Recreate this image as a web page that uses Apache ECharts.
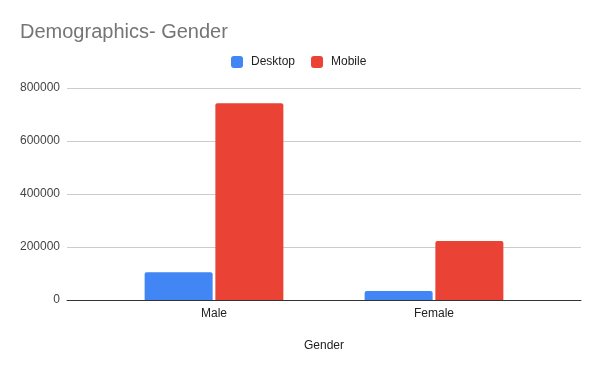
<!DOCTYPE html>
<html><head><meta charset="utf-8">
<script src="https://cdn.jsdelivr.net/npm/echarts@6/dist/echarts.min.js"></script>
<style>html,body{margin:0;padding:0;background:#fff}#c{width:600px;height:371px}</style>
</head><body><div id="c"></div>
<script>
const categories = ['Male', 'Female'];
const desktop = [104500, 34000];
const mobile = [742000, 222600];
const yTicks = [0, 200000, 400000, 600000, 800000];

const chart = echarts.init(document.getElementById('c'));
const font = 'Arial, "Liberation Sans", sans-serif';
chart.setOption({
  animation: false,
  title: { text: 'Demographics- Gender', left: 20, top: 22, padding: 0,
    textStyle: { fontFamily: font, fontSize: 20, fontWeight: 'normal', color: '#757575' } },
  legend: { top: 51, left: 226, itemWidth: 12, itemHeight: 12, itemGap: 16,
    icon: 'roundRect',
    textStyle: { fontFamily: font, fontSize: 12, color: '#222', padding: [0, 0, 0, 3] },
    data: ['Desktop', 'Mobile'] },
  grid: [
    { left: 67, right: 19, top: 88, bottom: 71 },
    { left: 104, right: 56, top: 88, bottom: 71 }
  ],
  xAxis: [
    { type: 'category', gridIndex: 0, data: [''], axisTick: { show: false },
      axisLabel: { show: false }, axisLine: { lineStyle: { color: '#333', width: 1 } },
      name: 'Gender', nameLocation: 'middle', nameGap: 40,
      nameTextStyle: { fontFamily: font, fontSize: 12, color: '#222' } },
    { type: 'category', gridIndex: 1, data: categories, axisTick: { show: false },
      axisLine: { show: false },
      axisLabel: { fontFamily: font, fontSize: 12, color: '#222', margin: 8 } }
  ],
  yAxis: [
    { type: 'value', gridIndex: 0, min: yTicks[0], max: yTicks[yTicks.length - 1], interval: 200000,
      axisLine: { show: false }, axisTick: { show: false },
      axisLabel: { fontFamily: font, fontSize: 12, color: '#444', margin: 7,
        formatter: v => String(v) },
      splitLine: { lineStyle: { color: '#cccccc' } } },
    { type: 'value', gridIndex: 1, min: yTicks[0], max: yTicks[yTicks.length - 1], interval: 200000,
      show: false, splitLine: { show: false } }
  ],
  series: [
    { name: 'Desktop', type: 'bar', xAxisIndex: 1, yAxisIndex: 1, data: desktop,
      barWidth: 68, barGap: '4%', itemStyle: { color: '#4285F4', borderRadius: [2, 2, 0, 0] } },
    { name: 'Mobile', type: 'bar', xAxisIndex: 1, yAxisIndex: 1, data: mobile,
      barWidth: 68, barGap: '4%', itemStyle: { color: '#EA4335', borderRadius: [2, 2, 0, 0] } }
  ]
});
</script></body></html>
